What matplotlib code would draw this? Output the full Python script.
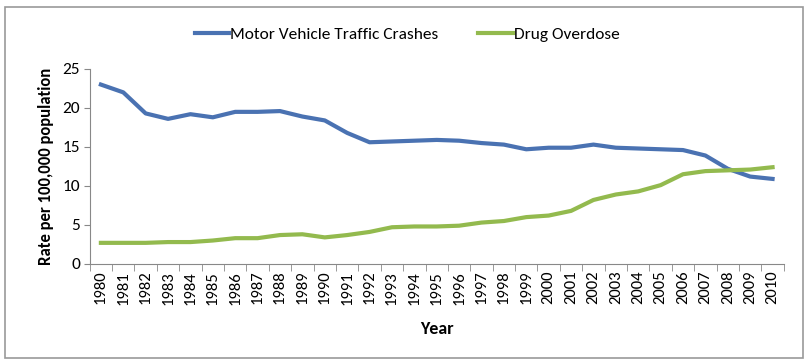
import numpy as np
import matplotlib.pyplot as plt
from matplotlib import font_manager
from matplotlib.patches import Rectangle

installed = {f.name for f in font_manager.fontManager.ttflist}
main_font = next((f for f in ['Carlito', 'Liberation Sans Narrow', 'Open Sans', 'Lato'] if f in installed), 'DejaVu Sans')
plt.rcParams['font.family'] = [main_font, 'DejaVu Sans']

years = list(range(1980, 2011))
motor_vehicle = [23.0, 22.0, 19.3, 18.6, 19.2, 18.8, 19.5, 19.5, 19.6, 18.9,
                 18.4, 16.8, 15.6, 15.7, 15.8, 15.9, 15.8, 15.5, 15.3, 14.7,
                 14.9, 14.9, 15.3, 14.9, 14.8, 14.7, 14.6, 13.9, 12.2, 11.2, 10.9]
drug_overdose = [2.7, 2.7, 2.7, 2.8, 2.8, 3.0, 3.3, 3.3, 3.7, 3.8,
                 3.4, 3.7, 4.1, 4.7, 4.8, 4.8, 4.9, 5.3, 5.5, 6.0,
                 6.2, 6.8, 8.2, 8.9, 9.3, 10.1, 11.5, 11.9, 12.0, 12.1, 12.4]

fig = plt.figure(figsize=(8.08, 3.63), dpi=100)
ax = fig.add_axes([0.111, 0.273, 0.859, 0.537])

x = np.arange(len(years))
ax.plot(x, motor_vehicle, color='#4A72B2', lw=3.0, label='Motor Vehicle Traffic Crashes')
ax.plot(x, drug_overdose, color='#93BA4E', lw=3.0, label='Drug Overdose')

ax.set_xlim(-0.5, len(years) - 0.5)
ax.set_ylim(0, 25)
ax.set_yticks([0, 5, 10, 15, 20, 25])
ax.tick_params(axis='y', labelsize=12.5, length=4, color='#888888', pad=3)

# category axis: tick marks between categories, labels at centers
ax.set_xticks(np.arange(-0.5, len(years)), minor=True)
ax.set_xticks(x)
ax.set_xticklabels([str(y) for y in years], rotation=90, fontsize=12)
ax.tick_params(axis='x', which='major', length=0, pad=5)
ax.tick_params(axis='x', which='minor', length=5, color='#888888')

for side in ['top', 'right']:
    ax.spines[side].set_visible(False)
ax.spines['left'].set_color('#888888')
ax.spines['bottom'].set_color('#888888')

ax.set_ylabel('Rate per 100,000 population', fontsize=12, fontweight='bold', labelpad=6)
ax.set_xlabel('Year', fontsize=13, fontweight='bold', labelpad=12)

fig.legend(loc='center', bbox_to_anchor=(0.504, 0.905), ncol=2, frameon=False,
           fontsize=12.5, handlelength=2.0, columnspacing=2.3, handletextpad=0.05)

fig.patches.append(Rectangle((0.006, 0.015), 0.988, 0.965, transform=fig.transFigure,
                             fill=False, edgecolor='#999999', lw=1.2))

fig.savefig('out.png', dpi=100)
